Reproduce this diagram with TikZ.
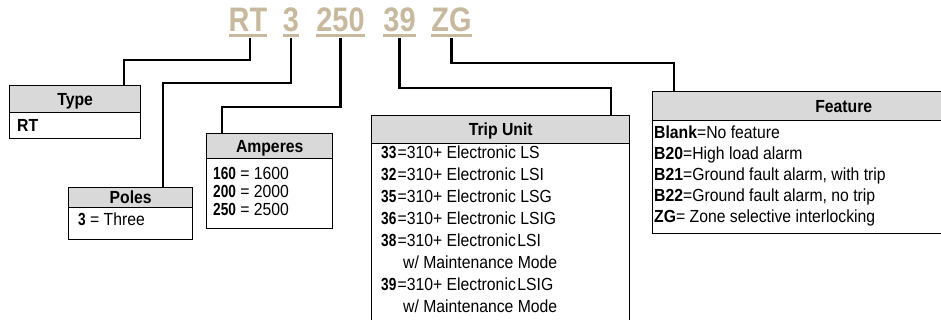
\documentclass[tikz,border=0pt]{standalone}
\usepackage{fontspec}
\setmainfont{Liberation Sans}[FakeStretch=0.9]
\newfontfamily\codefont{Liberation Sans}[FakeStretch=0.85]
\newfontfamily\numfont{Liberation Sans}[FakeStretch=0.78]
\newcommand{\bnum}[1]{{\numfont\bfseries #1}}
\definecolor{codetan}{RGB}{200,184,158}
\definecolor{hdrgray}{RGB}{217,217,217}
\tikzset{
  codelbl/.style={anchor=base, inner sep=0pt, text height=24pt, text depth=0pt, text=codetan,
    font=\codefont\bfseries\fontsize{34}{36}\selectfont},
  codeline/.style={draw=codetan, line width=2.5pt},
  conn/.style={draw=black, line width=2.4pt},
  boxbody/.style={draw=black, line width=1.4pt, inner sep=0pt, anchor=north west},
  boxhdr/.style={draw=black, fill=hdrgray, line width=1.4pt, inner sep=0pt, anchor=north west,
    text height=12.5pt, text depth=0pt, font=\bfseries\fontsize{17.5}{20}\selectfont},
  txt/.style={anchor=west, inner sep=0pt, text height=12.5pt, text depth=0pt,
    font=\fontsize{17.5}{20}\selectfont}
}
\begin{document}
\begin{tikzpicture}[x=1pt,y=-1pt]
\useasboundingbox (0,0) rectangle (941,320);
\clip (0,0) rectangle (941,320);

% code letters
\node[codelbl] (rt) at (248,32) {RT};
\node[codelbl] (p3) at (291,32) {3};
\node[codelbl] (a250) at (340.5,32) {250};
\node[codelbl] (t39) at (399.5,32) {39};
\node[codelbl] (zg) at (451.5,32) {ZG};
\foreach \n in {rt,p3,a250,t39,zg}{
  \draw[codeline] ([yshift=-3.5pt]\n.south west) -- ([yshift=-3.5pt]\n.south east);
}

% boxes
\node[boxbody, minimum width=131pt, minimum height=53pt] (typebox) at (9,85) {};
\node[boxhdr, minimum width=131pt, minimum height=27pt] (typehdr) at (9,85) {Type};
\node[boxbody, minimum width=124pt, minimum height=52pt] (polesbox) at (68,187) {};
\node[boxhdr, minimum width=124pt, minimum height=20pt] (poleshdr) at (68,187) {Poles};
\node[boxbody, minimum width=126pt, minimum height=95pt] (ampbox) at (206,133) {};
\node[boxhdr, minimum width=126pt, minimum height=25pt] (amphdr) at (206,133) {Amperes};
\node[boxbody, minimum width=258pt, minimum height=220pt] (tripbox) at (371,115) {};
\node[boxhdr, minimum width=258pt, minimum height=28pt] (triphdr) at (371,115) {Trip Unit};
\node[boxbody, minimum width=382pt, minimum height=142pt] (featbox) at (652,91) {};
\node[boxhdr, minimum width=382pt, minimum height=29pt] (feathdr) at (652,91) {Feature};

% attachment points on the box tops
\coordinate (typein) at (124,85);
\coordinate (polesin) at (163,187);
\coordinate (ampin) at (222,133);
\coordinate (tripin) at (611,115);
\coordinate (featin) at (674,91);

% connectors
\draw[conn] ([xshift=2pt,yshift=-6pt]rt.south) -- ++(0,22) -| (typein);
\draw[conn] ([yshift=-6pt]p3.south) -- ++(0,45) -| (polesin);
\draw[conn] ([yshift=-6pt]a250.south) -- ++(0,69) -| (ampin);
\draw[conn] ([yshift=-6pt]t39.south) -- ++(0,50) -| (tripin);
\draw[conn] ([yshift=-6pt]zg.south) -- ++(0,25) -| (featin);

% Type
\node[txt] (typert) at (17,125) {\textbf{RT}};
% Poles
\node[txt] (poles3) at (78,219) {\bnum{3} = Three};
% Amperes
\node[txt] (amp1) at (213,173) {\bnum{160} = 1600};
\node[txt] (amp2) at (213,191) {\bnum{200} = 2000};
\node[txt] (amp3) at (213,209) {\bnum{250} = 2500};
% Trip unit
\node[txt] (tn1) at (381,152) {\bnum{33}};
\node[txt] (tt1) at (397.5,152) {=310+ Electronic LS};
\node[txt] (tn2) at (381,174) {\bnum{32}};
\node[txt] (tt2) at (397.5,174) {=310+ Electronic LSI};
\node[txt] (tn3) at (381,196) {\bnum{35}};
\node[txt] (tt3) at (397.5,196) {=310+ Electronic LSG};
\node[txt] (tn4) at (381,218) {\bnum{36}};
\node[txt] (tt4) at (397.5,218) {=310+ Electronic LSIG};
\node[txt] (tn5) at (381,240) {\bnum{38}};
\node[txt] (tt5) at (397.5,240) {=310+ Electronic\hspace{1.5pt}LSI};
\node[txt] (tt6) at (403,262) {w/ Maintenance Mode};
\node[txt] (tn7) at (381,284) {\bnum{39}};
\node[txt] (tt7) at (397.5,284) {=310+ Electronic\hspace{1.5pt}LSIG};
\node[txt] (tt8) at (403,306) {w/ Maintenance Mode};
% Feature
\node[txt] (f1) at (654,132) {\textbf{Blank}=No feature};
\node[txt] (f2) at (654,153) {\textbf{B20}=High load alarm};
\node[txt] (f3) at (654,174) {\textbf{B21}=Ground fault alarm, with trip};
\node[txt] (f4) at (654,195) {\textbf{B22}=Ground fault alarm, no trip};
\node[txt] (f5) at (654,216) {\textbf{ZG}= Zone selective interlocking};
\end{tikzpicture}
\end{document}
